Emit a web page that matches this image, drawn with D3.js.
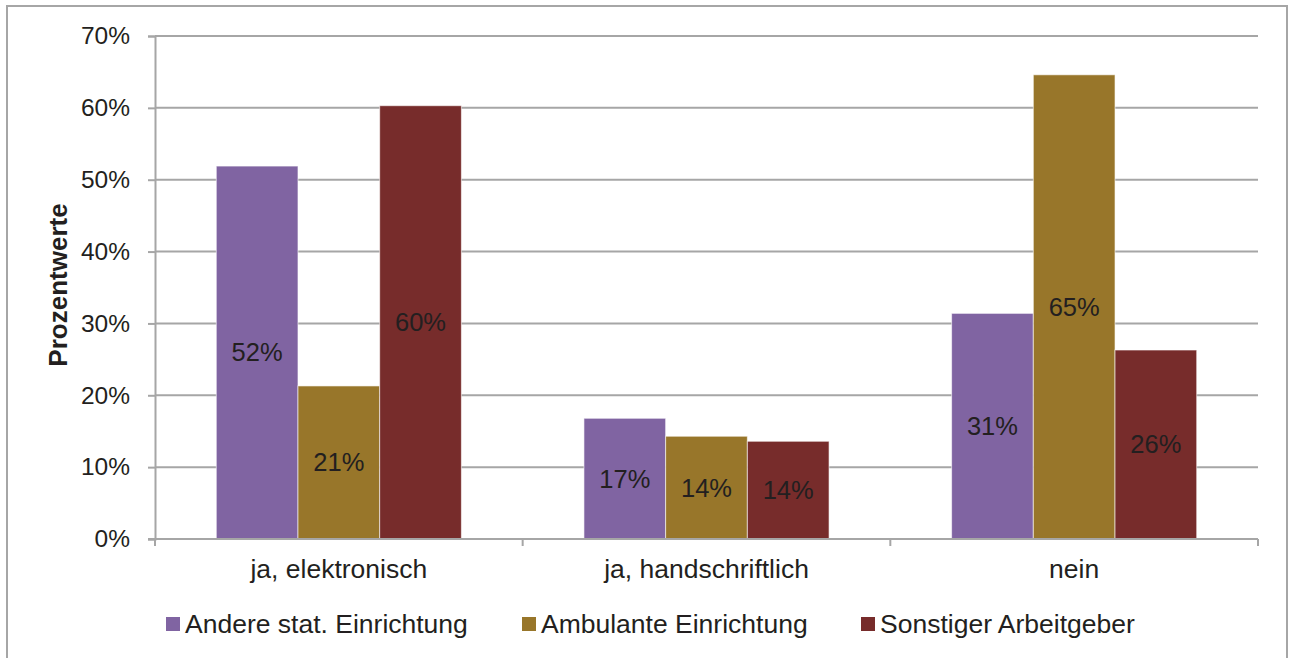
<!DOCTYPE html>
<html>
<head>
<meta charset="utf-8">
<script src="https://cdn.jsdelivr.net/npm/d3@7"></script>
<style>
  body { margin: 0; background: #fff; }
  text { font-family: "Liberation Sans", Arial, sans-serif; fill: #231F20; }
</style>
</head>
<body>
<div class="canvas"></div>
<script>
// data
const categories = ['ja, elektronisch', 'ja, handschriftlich', 'nein'];
const seriesNames = ['Andere stat. Einrichtung', 'Ambulante Einrichtung', 'Sonstiger Arbeitgeber'];
const andere = [51.9, 16.8, 31.4];
const ambulant = [21.3, 14.3, 64.6];
const sonstiger = [60.3, 13.6, 26.3];
const labels = [['52%', '17%', '31%'], ['21%', '14%', '65%'], ['60%', '14%', '26%']];
const yTicks = [0, 10, 20, 30, 40, 50, 60, 70];
const colors = ['#8064A2', '#98762A', '#772C2B'];

const series = [andere, ambulant, sonstiger];

const svg = d3.select('.canvas')
  .append('svg')
    .attr('width', 1293)
    .attr('height', 658);

// outer frame
svg.append('rect')
  .attr('x', 7).attr('y', 6)
  .attr('width', 1280).attr('height', 660)
  .attr('fill', 'none')
  .attr('stroke', '#A6A6A6')
  .attr('stroke-width', 2);

const margin = {top: 36, left: 155, right: 35, bottom: 119};
const graphWidth = 1293 - margin.left - margin.right;
const graphHeight = 658 - margin.top - margin.bottom;

const graph = svg.append('g')
  .attr('transform', `translate(${margin.left}, ${margin.top})`);

const y = d3.scaleLinear()
  .domain([0, 70])
  .range([graphHeight, 0]);

const x = d3.scaleBand()
  .domain(categories)
  .range([0, graphWidth]);

const xSub = d3.scaleBand()
  .domain(d3.range(seriesNames.length))
  .range([0, x.bandwidth()])
  .paddingInner(0)
  .paddingOuter(0.75);

// gridlines
graph.append('g')
  .selectAll('line')
  .data(yTicks.slice(1))
  .enter()
  .append('line')
    .attr('x1', 0).attr('x2', graphWidth)
    .attr('y1', d => y(d)).attr('y2', d => y(d))
    .attr('stroke', '#A6A6A6')
    .attr('stroke-width', 2);

// y axis
const yAxis = d3.axisLeft(y)
  .tickValues(yTicks)
  .tickFormat(d => d + '%')
  .tickSize(7)
  .tickPadding(18);

const yAxisGroup = graph.append('g').call(yAxis);
yAxisGroup.select('.domain').attr('stroke', '#A6A6A6').attr('stroke-width', 2);
yAxisGroup.selectAll('.tick line').attr('stroke', '#A6A6A6').attr('stroke-width', 2);
yAxisGroup.selectAll('text')
  .attr('font-size', 24.5)
  .attr('fill', '#231F20')
  .style('font-family', '"Liberation Sans", Arial, sans-serif');

// bars
series.forEach((vals, si) => {
  graph.append('g')
    .selectAll('rect')
    .data(vals)
    .enter()
    .append('rect')
      .attr('x', (d, i) => x(categories[i]) + xSub(si))
      .attr('y', d => y(d))
      .attr('width', xSub.bandwidth())
      .attr('height', d => graphHeight - y(d))
      .attr('fill', colors[si])
      .attr('stroke', '#fff')
      .attr('stroke-opacity', 0.6)
      .attr('stroke-width', 1);

  graph.append('g')
    .selectAll('text')
    .data(vals)
    .enter()
    .append('text')
      .attr('x', (d, i) => x(categories[i]) + xSub(si) + xSub.bandwidth() / 2)
      .attr('y', d => (y(d) + graphHeight) / 2)
      .attr('dy', '0.35em')
      .attr('text-anchor', 'middle')
      .attr('font-size', 25.5)
      .text((d, i) => labels[si][i]);
});

// x axis
const xAxisGroup = graph.append('g')
  .attr('transform', `translate(0, ${graphHeight})`);
xAxisGroup.append('line')
  .attr('x1', -7).attr('x2', graphWidth)
  .attr('stroke', '#A6A6A6').attr('stroke-width', 2);
xAxisGroup.selectAll('.sep')
  .data([0, ...categories.map(c => x(c) + x.bandwidth())])
  .enter()
  .append('line')
    .attr('x1', d => d).attr('x2', d => d)
    .attr('y1', 0).attr('y2', 7)
    .attr('stroke', '#A6A6A6').attr('stroke-width', 2);
xAxisGroup.selectAll('.cat')
  .data(categories)
  .enter()
  .append('text')
    .attr('x', d => x(d) + x.bandwidth() / 2)
    .attr('y', 39)
    .attr('text-anchor', 'middle')
    .attr('font-size', 26.5)
    .text(d => d);

// y title
svg.append('text')
  .attr('transform', 'translate(67, 285) rotate(-90)')
  .attr('text-anchor', 'middle')
  .attr('font-size', 26)
  .attr('font-weight', 'bold')
  .text('Prozentwerte');

// legend
const legendX = [166, 522, 861];
const legend = svg.append('g')
  .selectAll('g')
  .data(seriesNames)
  .enter()
  .append('g')
    .attr('transform', (d, i) => `translate(${legendX[i]}, 617)`);
legend.append('rect')
  .attr('width', 14).attr('height', 14)
  .attr('fill', (d, i) => colors[i]);
legend.append('text')
  .attr('x', 19).attr('y', 16)
  .attr('font-size', 26.5)
  .text(d => d);
</script>
</body>
</html>
